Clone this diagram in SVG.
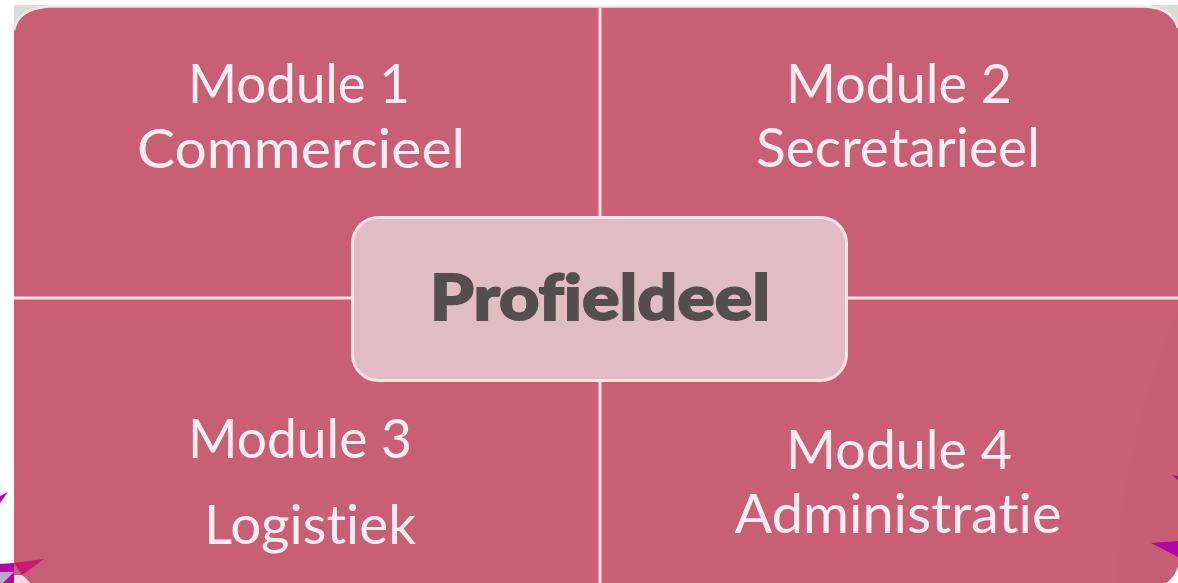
<svg xmlns="http://www.w3.org/2000/svg" width="1178" height="583" viewBox="0 0 1178 583">
<style>
.m{font-family:Lato,"Liberation Sans",sans-serif;font-size:55px;fill:#fbeef0;text-anchor:middle;font-variant-ligatures:none}
.p{font-family:Lato,"Liberation Sans",sans-serif;font-size:63px;font-weight:900;fill:#544e50;stroke:#544e50;stroke-width:1.800;text-anchor:middle;font-variant-ligatures:none}
.d{stroke:#fde3e8;stroke-width:3;fill:none}
.g{fill:#b5069f}
</style>
<rect width="1178" height="583" fill="#ffffff"/>
<path d="M14 5H48L14 28Z" fill="#d9dcd8"/>
<path d="M1150 5H1178V26Z" fill="#d9dcd8"/>
<g id="decor-left">
<path class="g" d="M8 492L0 496V503Z"/>
<path class="g" d="M0 564L14 563V572L0 572Z"/>
<path d="M0 572H14V583H0Z" fill="#b9a9d2"/>
<path class="g" d="M3 583L14 572V583Z"/>
</g>
<g id="panel">
<path d="M14 30Q18 9 48 7H1145Q1172 8 1178 28V566Q1174 578 1166 583H30L14 583Z" fill="#c85f75"/>
<path d="M48 6.500H1145" stroke="#fbe4e8" stroke-width="2.500" fill="none"/>
<path d="M14 30Q18 9 48 6.500" stroke="#fbe4e8" stroke-width="2.500" fill="none"/>
<path d="M1145 6.500Q1172 8 1178 28" stroke="#fbe4e8" stroke-width="2.500" fill="none"/>
<path d="M1178 310Q1120 450 1117 583H1166Q1174 578 1178 566Z" fill="#c75e74"/>
</g>
<path d="M14 563L44 559L22 575Z" fill="#c51a76"/>
<path d="M14 583V575L22 575Q26 578 30 583Z" fill="#f4dbe2"/>
<g id="decor-right">
<path class="g" d="M1172 475L1178 476V480Z"/>
<path class="g" d="M1151 543L1178 541V557Z"/>
</g>
<g id="connectors">
<path class="d" d="M600 8V218"/>
<path class="d" d="M600 381V583"/>
<path class="d" d="M14 298H353"/>
<path class="d" d="M847 298H1178"/>
</g>
<g id="node-profieldeel">
<rect x="352.500" y="217.500" width="494" height="163" rx="26" fill="#e1bcc5" stroke="#fde3e8" stroke-width="3"/>
<text class="p" x="600" y="320" textLength="340" lengthAdjust="spacingAndGlyphs">Profieldeel</text>
</g>
<g id="node-module-1"><text class="m" x="299" y="103" textLength="222" lengthAdjust="spacingAndGlyphs">Module 1</text><text class="m" x="301" y="168" textLength="328" lengthAdjust="spacingAndGlyphs">Commercieel</text></g>
<g id="node-module-2"><text class="m" x="899" y="103" textLength="226" lengthAdjust="spacingAndGlyphs">Module 2</text><text class="m" x="898" y="167" textLength="284" lengthAdjust="spacingAndGlyphs">Secretarieel</text></g>
<g id="node-module-3"><text class="m" x="300" y="458" textLength="224" lengthAdjust="spacingAndGlyphs">Module 3</text><text class="m" x="310" y="544" textLength="212" lengthAdjust="spacingAndGlyphs">Logistiek</text></g>
<g id="node-module-4"><text class="m" x="899" y="469" textLength="226" lengthAdjust="spacingAndGlyphs">Module 4</text><text class="m" x="898" y="533" textLength="327" lengthAdjust="spacingAndGlyphs">Administratie</text></g>
</svg>
